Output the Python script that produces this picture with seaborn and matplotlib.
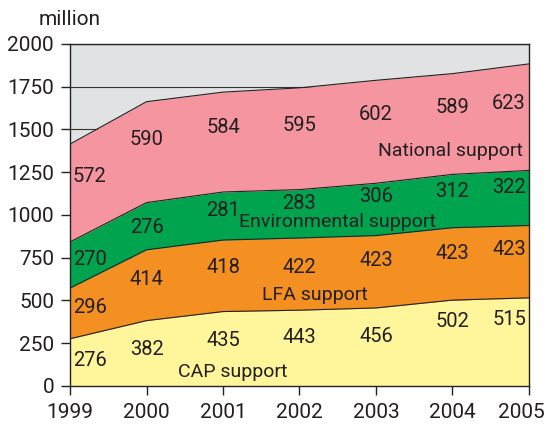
import pandas as pd
import numpy as np
import matplotlib
matplotlib.use('Agg')
import matplotlib.pyplot as plt
import matplotlib.transforms as mtransforms
import seaborn as sns

# data (million)
years = [1999, 2000, 2001, 2002, 2003, 2004, 2005]
cap = [276, 382, 435, 443, 456, 502, 515]
lfa = [296, 414, 418, 422, 423, 423, 423]
env = [270, 276, 281, 283, 306, 312, 322]
national = [572, 590, 584, 595, 602, 589, 623]

series_names = ['CAP support', 'LFA support', 'Environmental support', 'National support']
colors = ['#fff59b', '#f39021', '#00a44f', '#f4959f']

# where the value labels sit (y, data units)
label_y = {
    'CAP support': [146, 216, 263, 281, 287, 374, 386],
    'LFA support': [456, 620, 690, 690, 731, 772, 795],
    'Environmental support': [737, 924, 1023, 1064, 1105, 1135, 1158],
    'National support': [1222, 1439, 1509, 1520, 1585, 1626, 1649],
}
name_pos = {
    'CAP support': (2001.13, 82),
    'LFA support': (2002.2, 532),
    'Environmental support': (2002.49, 959),
    'National support': (2003.97, 1374),
}

df = pd.DataFrame({'year': years, 'CAP support': cap, 'LFA support': lfa,
                   'Environmental support': env, 'National support': national})

sns.set_style('white')
plt.rcParams['font.family'] = ['Roboto', 'DejaVu Sans']

fig = plt.figure(figsize=(5.47, 4.26), dpi=100)
ax = fig.add_axes([0.128, 0.094, 0.839, 0.803])
ax.set_facecolor('#e1e2e4')

# grid behind the areas
for yv in range(0, 2001, 250):
    ax.axhline(yv, color='#333333', lw=0.8, zorder=0)

bottom = np.zeros(len(years))
for name, col in zip(series_names, colors):
    top = bottom + df[name].values
    ax.fill_between(df['year'], bottom, top, color=col, lw=0, zorder=1)
    sns.lineplot(x=df['year'], y=top, ax=ax, color='#222222', lw=0.8, zorder=2)
    # value labels
    xs = [y + 0.26 if y == years[0] else (y - 0.26 if y == years[-1] else y) for y in years]
    for xv, yv, v in zip(xs, label_y[name], df[name]):
        ax.text(xv, yv, str(v), ha='center', va='center', fontsize=14.5, color='#231f20', zorder=3)
    nx, ny = name_pos[name]
    ax.text(nx, ny, name, ha='center', va='center', fontsize=14, color='#231f20', zorder=3)
    bottom = top

ax.set_xlim(1999, 2005)
ax.set_ylim(0, 2000)
ax.set_xticks(years)
ax.set_yticks(range(0, 2001, 250))
ax.tick_params(axis='both', labelsize=15, direction='out', length=6.5, width=1,
               color='#222222', labelcolor='#231f20', left=True, bottom=True)
ax.tick_params(axis='y', pad=5)
ax.tick_params(axis='x', pad=6)
ax.set_xlabel('')
ax.set_ylabel('')
for s in ax.spines.values():
    s.set_visible(True)
    s.set_color('#222222')
    s.set_linewidth(1.0)
    s.set_zorder(4)

# last year label nudged left so it stays inside the figure
last = ax.get_xticklabels()[-1]
last.set_transform(last.get_transform() + mtransforms.ScaledTranslation(-8 / 100, 0, fig.dpi_scale_trans))

fig.text(0.128, 0.955, 'million', ha='center', va='center', fontsize=15, color='#231f20')

fig.savefig('out.png', dpi=100)
